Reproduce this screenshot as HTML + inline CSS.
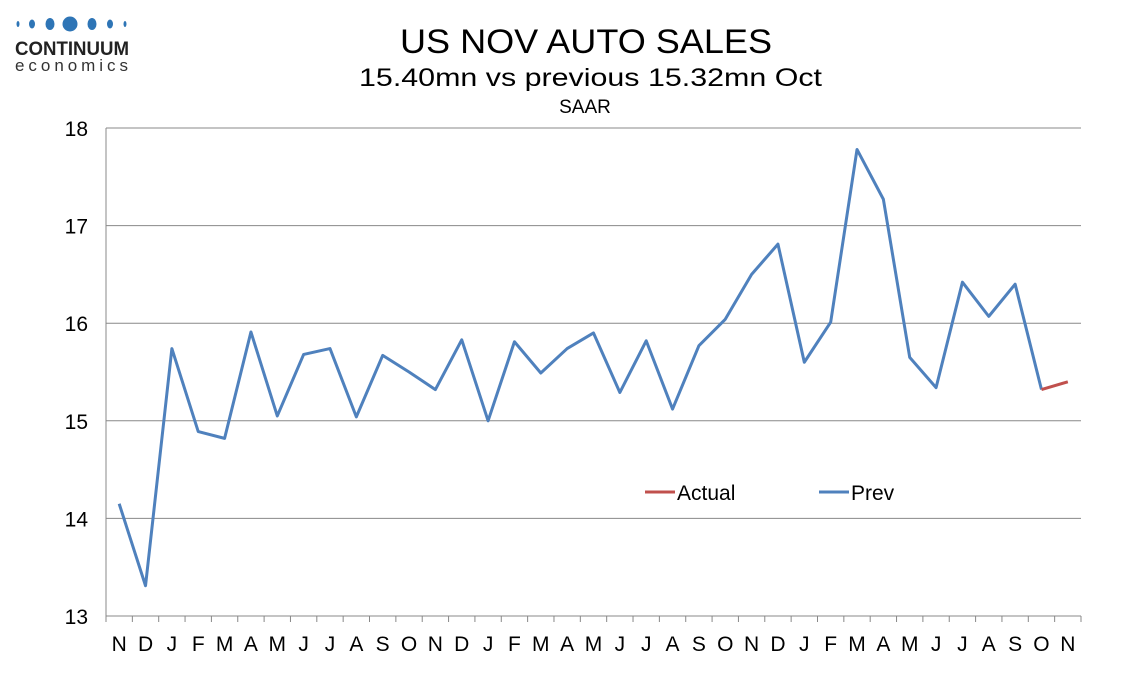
<!DOCTYPE html>
<html><head><meta charset="utf-8"><style>
body{margin:0;background:#fff;font-family:"Liberation Sans","DejaVu Sans",sans-serif}
</style></head><body>
<svg id="c" width="1134" height="680" xmlns="http://www.w3.org/2000/svg" font-family="Liberation Sans, DejaVu Sans, sans-serif">
<g>
<ellipse cx="18" cy="24" rx="1.5" ry="3" fill="#2e75b6"/>
<ellipse cx="32" cy="24" rx="3" ry="4.5" fill="#2e75b6"/>
<ellipse cx="50" cy="24" rx="4.5" ry="6" fill="#2e75b6"/>
<circle cx="70" cy="24" r="7.5" fill="#2e75b6"/>
<ellipse cx="92" cy="24" rx="4.5" ry="6" fill="#2e75b6"/>
<ellipse cx="110" cy="24" rx="3" ry="4.5" fill="#2e75b6"/>
<ellipse cx="125" cy="24" rx="1.5" ry="3" fill="#2e75b6"/>
<text x="15" y="55" font-size="19" font-weight="bold" fill="#222" textLength="114" lengthAdjust="spacingAndGlyphs">CONTINUUM</text>
<text x="15" y="71" font-size="17" fill="#333" textLength="113" lengthAdjust="spacing">economics</text>
</g>
<text x="400" y="53" font-size="34" textLength="372" lengthAdjust="spacingAndGlyphs">US NOV AUTO SALES</text>
<text x="359" y="86" font-size="25" textLength="463" lengthAdjust="spacingAndGlyphs">15.40mn vs previous 15.32mn Oct</text>
<text x="585" y="113" font-size="19" text-anchor="middle">SAAR</text>
<g id="grid"></g><g id="marks"></g>
<g>
<line x1="645" y1="492" x2="675" y2="492" stroke="#c0504d" stroke-width="3"/>
<text x="677" y="500" font-size="21">Actual</text>
<line x1="819" y1="492" x2="849" y2="492" stroke="#4f81bd" stroke-width="3"/>
<text x="851" y="500" font-size="21">Prev</text>
</g>
</svg>
<script>
const categories=["N","D","J","F","M","A","M","J","J","A","S","O","N","D","J","F","M","A","M","J","J","A","S","O","N","D","J","F","M","A","M","J","J","A","S","O","N"];
const prevValues=[14.15,13.31,15.74,14.89,14.82,15.91,15.05,15.68,15.74,15.04,15.67,15.50,15.32,15.83,15.00,15.81,15.49,15.74,15.90,15.29,15.82,15.12,15.77,16.04,16.50,16.81,15.60,16.01,17.78,17.27,15.65,15.34,16.42,16.07,16.40,15.32];
const actualValues=[15.32,15.40];
const yTicks=[13,14,15,16,17,18];
const NS="http://www.w3.org/2000/svg";
const L=106,R=1081,T=128,B=616,yMin=13,yMax=18;
const bw=(R-L)/categories.length;
const xs=i=>L+bw*(i+0.5);
const ys=v=>B-(v-yMin)/(yMax-yMin)*(B-T);
const grid=document.getElementById('grid'),marks=document.getElementById('marks');
function mk(t,a,p){const e=document.createElementNS(NS,t);for(const k in a)e.setAttribute(k,a[k]);p.appendChild(e);return e;}
yTicks.forEach(v=>{
 const l=mk('line',{x1:L,x2:R,y1:ys(v),y2:ys(v),stroke:'#888','stroke-width':1},grid);
 
 
 const t=mk('text',{x:L-18,y:ys(v)+8,'font-size':21,'text-anchor':'end'},grid);
 t.textContent=v;
 
 
});
mk('line',{x1:L,x2:L,y1:T,y2:B,stroke:'#888'},grid);
categories.forEach((c,i)=>{
 mk('line',{x1:L+bw*i,x2:L+bw*i,y1:B,y2:B+6,stroke:'#888'},grid);
 const t=mk('text',{x:xs(i),y:B+35,'font-size':21,'text-anchor':'middle'},grid);
 t.textContent=c;
 
 
});
mk('line',{x1:R,x2:R,y1:B,y2:B+6,stroke:'#888'},grid);
const p=mk('polyline',{points:prevValues.map((v,i)=>xs(i)+','+ys(v)).join(' '),fill:'none',stroke:'#4f81bd','stroke-width':3,'stroke-linejoin':'round'},marks);


const off=categories.length-actualValues.length;
const a=mk('polyline',{points:actualValues.map((v,i)=>xs(i+off)+','+ys(v)).join(' '),fill:'none',stroke:'#c0504d','stroke-width':3},marks);


</script>
</body></html>
